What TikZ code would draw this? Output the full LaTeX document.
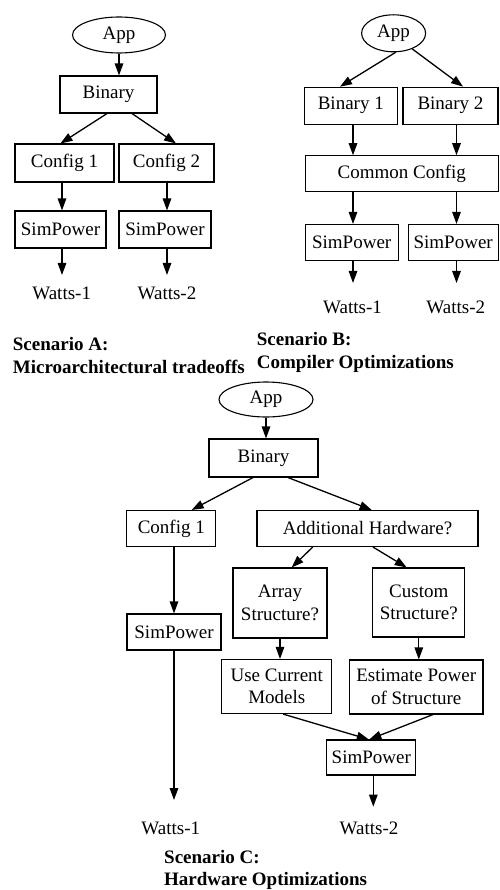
\documentclass[tikz,border=0pt]{standalone}
\usepackage{fontspec}
\setmainfont{Liberation Serif}
\usetikzlibrary{arrows.meta,shapes.geometric}
\begin{document}
\begin{tikzpicture}[x=1pt,y=-1pt,
  every node/.style={font=\fontsize{19}{22.5}\selectfont},
  bx/.style={draw,line width=1.1pt,inner sep=0pt,align=center},
  appoval/.style={draw,ellipse,line width=1.1pt,inner sep=0pt},
  arr/.style={line width=1.3pt,-{Triangle[length=12pt,width=8.5pt]}},
  wlbl/.style={anchor=base,inner sep=0pt},
  scen/.style={anchor=base west,align=left,inner sep=0pt,font=\fontsize{19}{22.5}\selectfont\bfseries}]
\useasboundingbox (0,0) rectangle (499,890);

% ---------- Scenario A ----------
\node[appoval,minimum width=93pt,minimum height=36pt] (appA) at (119,35) {App};
\node[bx,minimum width=97pt,minimum height=37pt] (binA) at (108.5,94.5) {Binary};
\node[bx,minimum width=99pt,minimum height=38pt] (cfgA1) at (64.5,163) {Config 1};
\node[bx,minimum width=95pt,minimum height=38pt] (cfgA2) at (166.5,163) {Config 2};
\node[bx,minimum width=91pt,minimum height=37pt] (spA1) at (60.5,229.5) {SimPower};
\node[bx,minimum width=92pt,minimum height=37pt] (spA2) at (165,229.5) {SimPower};
\node[wlbl] (wA1) at (61.7,299) {Watts-1};
\node[wlbl] (wA2) at (167,299) {Watts-2};
\coordinate (eA1) at (62,275);
\coordinate (eA2) at (167,275);
\node[scen] (sA) at (12.7,373) {Scenario A:\\Microarchitectural tradeoffs};

\draw[arr] (appA.south) -- (appA.south |- binA.north);
\draw[arr] ([xshift=-1.5pt]binA.south) -- ([xshift=-4pt]cfgA1.north);
\draw[arr] ([xshift=23.5pt]binA.south) -- ([xshift=9.5pt]cfgA2.north);
\draw[arr] ([xshift=-2.5pt]cfgA1.south) -- ([xshift=1.5pt]spA1.north);
\draw[arr] ([xshift=0.5pt]cfgA2.south) -- ([xshift=2pt]spA2.north);
\draw[arr] (spA1.south -| eA1) -- (eA1);
\draw[arr] (spA2.south -| eA2) -- (eA2);

% ---------- Scenario B ----------
\node[appoval,minimum width=64pt,minimum height=37pt] (appB) at (393.6,33.3) {App};
\node[bx,minimum width=93pt,minimum height=37pt] (binB1) at (350.8,105.7) {Binary 1};
\node[bx,minimum width=95pt,minimum height=37pt] (binB2) at (450.5,105.7) {Binary 2};
\node[bx,minimum width=193pt,minimum height=36pt] (cfgB) at (401.8,173.8) {Common Config};
\node[bx,minimum width=93pt,minimum height=36pt] (spB1) at (351.7,242.5) {SimPower};
\node[bx,minimum width=90pt,minimum height=36pt] (spB2) at (453.2,242.5) {SimPower};
\node[wlbl] (wB1) at (352.5,313) {Watts-1};
\node[wlbl] (wB2) at (455.8,313) {Watts-2};
\coordinate (eB1) at (353,283);
\coordinate (eB2) at (456.5,283);
\node[scen] (sB) at (256.7,368) {Scenario B:\\Compiler Optimizations};

\draw[arr] ([xshift=2pt]appB.south) -- ([xshift=-10.8pt]binB1.north);
\draw[arr] (appB.-40) -- ([xshift=12.5pt]binB2.north);
\draw[arr] ([xshift=2.2pt]binB1.south) -- ([xshift=-48.8pt]cfgB.north);
\draw[arr] ([xshift=6pt]binB2.south) -- ([xshift=54.7pt]cfgB.north);
\draw[arr] ([xshift=-48.8pt]cfgB.south) -- ([xshift=1.3pt]spB1.north);
\draw[arr] ([xshift=54.7pt]cfgB.south) -- ([xshift=3.3pt]spB2.north);
\draw[arr] (spB1.south -| eB1) -- (eB1);
\draw[arr] (spB2.south -| eB2) -- (eB2);

% ---------- Scenario C ----------
\node[appoval,minimum width=94pt,minimum height=35pt] (appC) at (266,399.5) {App};
\node[bx,minimum width=109pt,minimum height=38pt] (binC) at (263.5,458) {Binary};
\node[bx,minimum width=89pt,minimum height=36pt] (cfgC) at (171.3,528.5) {Config 1};
\node[bx,minimum width=221pt,minimum height=36pt] (addC) at (367.5,528.5) {Additional Hardware?};
\node[bx,minimum width=94pt,minimum height=70pt] (arrC) at (280,603) {Array\\Structure?};
\node[bx,minimum width=92pt,minimum height=69pt] (custC) at (418.8,602.5) {Custom\\Structure?};
\node[bx,minimum width=94pt,minimum height=36pt] (spC1) at (174,632) {SimPower};
\node[bx,minimum width=110pt,minimum height=54pt] (useC) at (276.8,686.5) {Use Current\\Models};
\node[bx,minimum width=133.5pt,minimum height=54pt] (estC) at (416.2,687) {Estimate Power\\of Structure};
\node[bx,minimum width=89pt,minimum height=35pt] (spC2) at (371.3,757.5) {SimPower};
\node[wlbl] (wC1) at (170.8,834) {Watts-1};
\node[wlbl] (wC2) at (369,834) {Watts-2};
\coordinate (eC1) at (174,800);
\coordinate (eC2) at (373.3,806.7);
\node[scen] (sC) at (164,885.5) {Scenario C:\\Hardware Optimizations};

\draw[arr] (appC.south) -- (appC.south |- binC.north);
\draw[arr] ([xshift=-10.5pt]binC.south) -- ([xshift=20.4pt]cfgC.north);
\draw[arr] ([xshift=24.5pt]binC.south) -- ([xshift=4.2pt]addC.north);
\draw[arr] ([xshift=2.7pt]cfgC.south) -- (spC1.north);
\draw[arr] ([xshift=-54.8pt]addC.south) -- ([xshift=11.7pt]arrC.north);
\draw[arr] ([xshift=5.5pt]addC.south) -- ([xshift=-12.1pt]custC.north);
\draw[arr] (arrC.south) -- (arrC.south |- useC.north);
\draw[arr] (custC.south) -- (custC.south |- estC.north);
\draw[arr] ([xshift=6.2pt]useC.south) -- ([xshift=-2.5pt]spC2.north);
\draw[arr] ([xshift=16.8pt]estC.south) -- ([xshift=-2pt]spC2.north);
\draw[arr] (spC1.south -| eC1) -- (eC1);
\draw[arr] (spC2.south -| eC2) -- (eC2);
\end{tikzpicture}
\end{document}
